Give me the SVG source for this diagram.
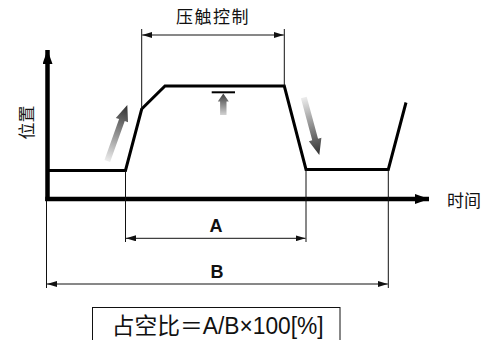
<svg xmlns="http://www.w3.org/2000/svg" width="496" height="340" viewBox="0 0 496 340">
<style>
text{font-family:"Liberation Sans","Noto Sans CJK SC",sans-serif;fill:#111}
.lbl{font-size:17px}
.dim{font-size:18px;font-weight:bold}
.thin{stroke:#111;stroke-width:1;fill:none}
.wave{stroke:#000;stroke-width:3;fill:none;stroke-linejoin:miter}
.axis{stroke:#000;stroke-width:4.5;fill:none}
</style>
<defs>
<marker id="dimArrow" viewBox="0 0 10 6" refX="10" refY="3" markerWidth="10" markerHeight="6" markerUnits="userSpaceOnUse" orient="auto-start-reverse">
<path d="M0,0 L10,3 L0,6 Z" fill="#111"/>
</marker>
<marker id="axArrow" viewBox="0 0 14 10" refX="14" refY="5" markerWidth="14" markerHeight="10" markerUnits="userSpaceOnUse" orient="auto">
<path d="M0,0 L14,5 L0,10 Z" fill="#000"/>
</marker>
<linearGradient id="g1" gradientUnits="userSpaceOnUse" x1="0" y1="60" x2="0" y2="0">
<stop offset="0" stop-color="#eeeeee"/>
<stop offset="1" stop-color="#2e2e2e"/>
</linearGradient>
<linearGradient id="g3" gradientUnits="userSpaceOnUse" x1="0" y1="22" x2="0" y2="0">
<stop offset="0" stop-color="#d6d6d6"/>
<stop offset="1" stop-color="#3c3c3c"/>
</linearGradient>
</defs>

<g id="axes">
<line class="axis" x1="47.5" y1="201" x2="47.5" y2="50" marker-end="url(#axArrow)"/>
<line class="axis" x1="45.3" y1="199" x2="429" y2="199" marker-end="url(#axArrow)"/>
<text class="lbl" transform="translate(32.5,122.5) rotate(-90)" text-anchor="middle">位置</text>
<text class="lbl" x="447" y="207">时间</text>
</g>

<g id="waveform">
<polyline class="wave" points="47,170.5 125.5,170.5 141.7,109 165,86 284.3,86 306,169.5 388.3,169.5 406,102.5"/>
</g>

<g id="connectors">
<line class="thin" x1="141.7" y1="109" x2="141.7" y2="29"/>
<line class="thin" x1="284.3" y1="86" x2="284.3" y2="29"/>
<line class="thin" x1="125.5" y1="170.5" x2="125.5" y2="242"/>
<line class="thin" x1="306" y1="169.5" x2="306" y2="242"/>
<line class="thin" x1="46.5" y1="201" x2="46.5" y2="288"/>
<line class="thin" x1="388.3" y1="169.5" x2="388.3" y2="288"/>
<line class="thin" x1="142.2" y1="35" x2="283.8" y2="35" marker-start="url(#dimArrow)" marker-end="url(#dimArrow)"/>
<line class="thin" x1="126" y1="238.3" x2="305.5" y2="238.3" marker-start="url(#dimArrow)" marker-end="url(#dimArrow)"/>
<line class="thin" x1="47" y1="284" x2="387.8" y2="284" marker-start="url(#dimArrow)" marker-end="url(#dimArrow)"/>
</g>

<g id="label-press">
<text class="lbl" x="213" y="23" text-anchor="middle" letter-spacing="1.5">压触控制</text>
</g>
<g id="label-A">
<text class="dim" x="216" y="232" text-anchor="middle">A</text>
</g>
<g id="label-B">
<text class="dim" x="217" y="278" text-anchor="middle">B</text>
</g>

<g id="arrow-up">
<polygon transform="translate(127.3,105) rotate(19.65)" points="0,0 6.5,16 3,16 3,59.5 -3,59.5 -3,16 -6.5,16" fill="url(#g1)"/>
</g>
<g id="arrow-down">
<polygon transform="translate(319.3,155) rotate(164.9)" points="0,0 6.5,16 3,16 3,59.5 -3,59.5 -3,16 -6.5,16" fill="url(#g1)"/>
</g>
<g id="arrow-press">
<line x1="211.7" y1="92.3" x2="235" y2="92.3" stroke="#000" stroke-width="2"/>
<polygon transform="translate(223.3,93.5)" points="0,0 5.5,8 3.2,8 3.2,21.5 -3.2,21.5 -3.2,8 -5.5,8" fill="url(#g3)"/>
</g>

<g id="formula">
<rect x="92.5" y="307.5" width="247.5" height="40" fill="none" stroke="#111" stroke-width="1"/>
<text x="111.7" y="333.5" font-size="23" textLength="212" lengthAdjust="spacingAndGlyphs">占空比＝A/B×100[%]</text>
</g>
</svg>
